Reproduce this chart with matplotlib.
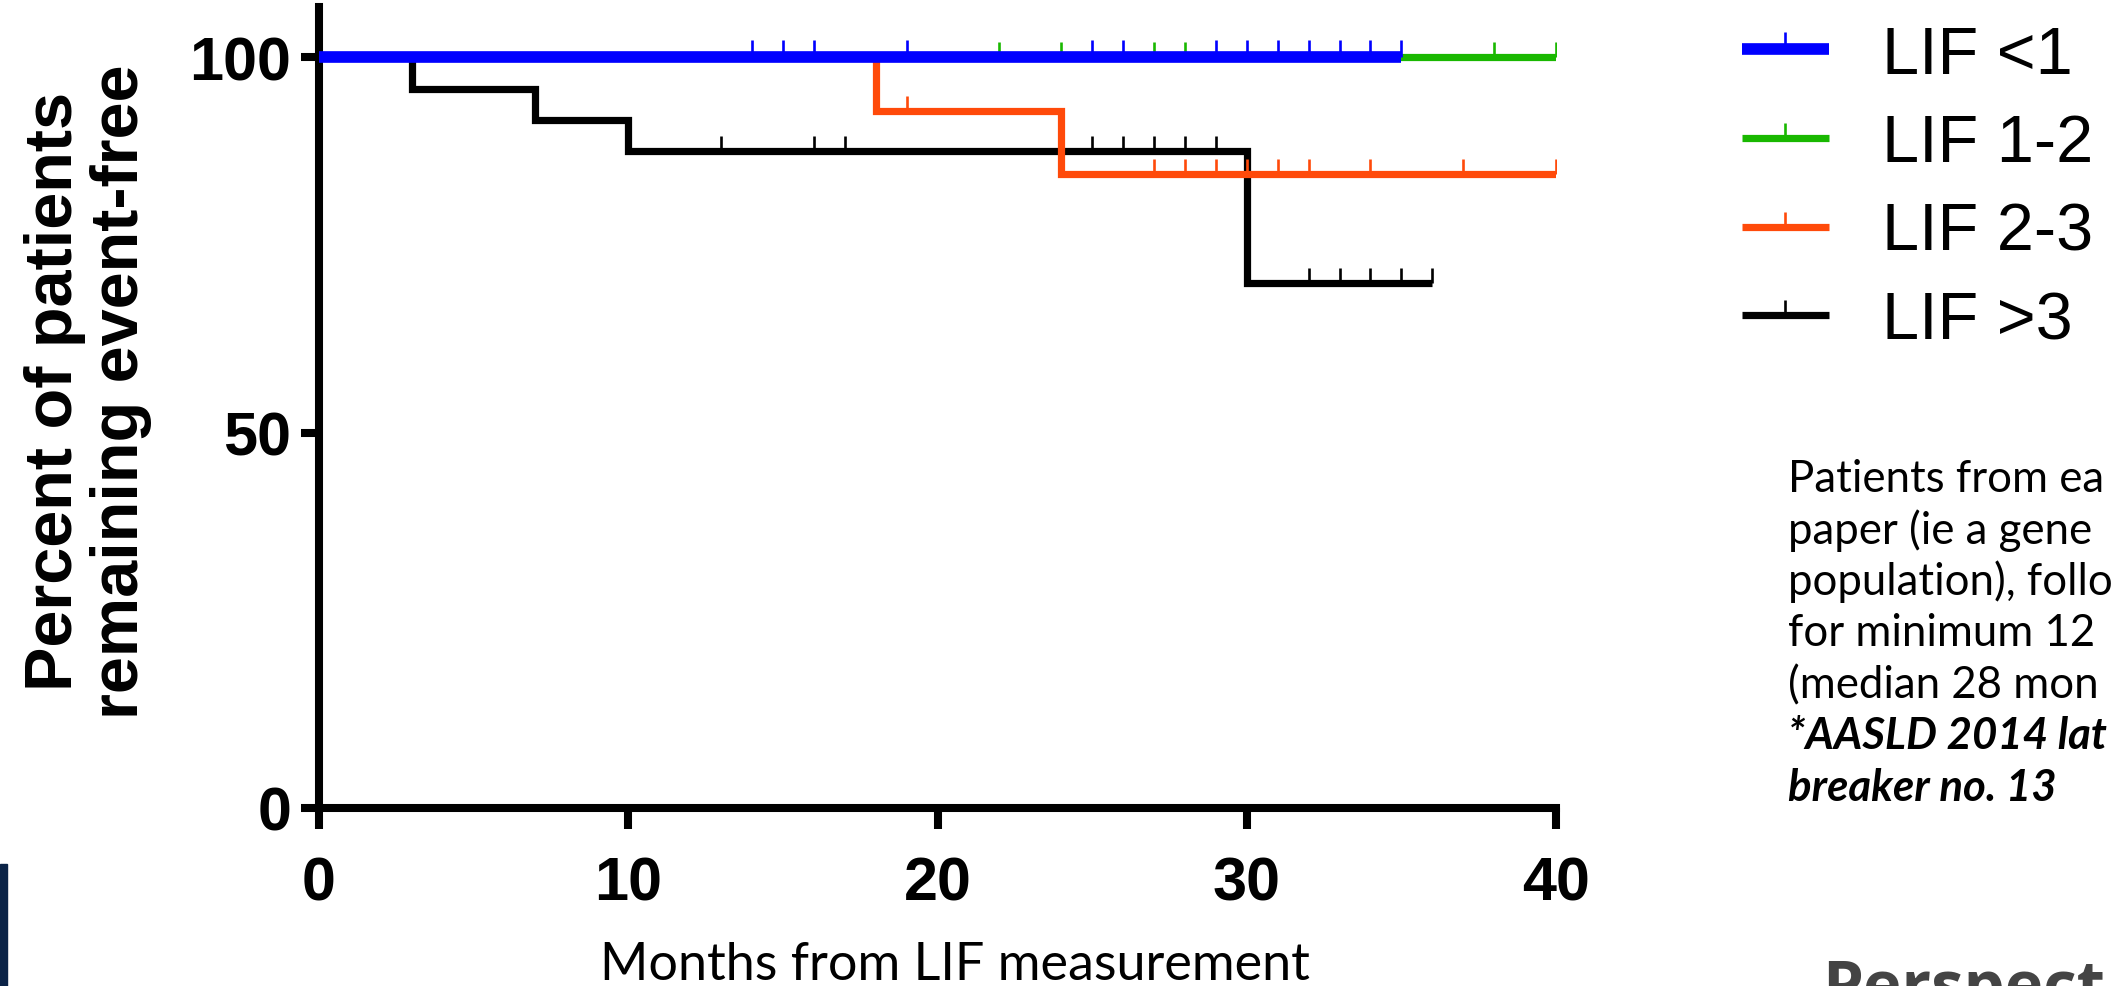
import numpy as np
import matplotlib
matplotlib.use('Agg')
import matplotlib.pyplot as plt
from matplotlib.lines import Line2D

# === DADOS (Kaplan-Meier) ===
grupos = ['LIF <1', 'LIF 1-2', 'LIF 2-3', 'LIF >3']
cores = ['#0000ff', '#19b800', '#ff4a0a', '#000000']

tempos_azul = [0, 35]
sobrev_azul = [100, 100]
censura_azul = [14, 15, 16, 19, 25, 26, 29, 30, 31, 32, 33, 34, 35]

tempos_verde = [0, 40]
sobrev_verde = [100, 100]
censura_verde = [22, 24, 27, 28, 38, 40]

tempos_laranja = [0, 18, 24, 40]
sobrev_laranja = [100, 92.9, 84.4, 84.4]
censura_laranja = [19, 27, 28, 29, 30, 31, 32, 34, 37, 40]

tempos_preto = [0, 3, 7, 10, 30, 36]
sobrev_preto = [100, 95.8, 91.7, 87.5, 70.0, 70.0]
censura_preto = [13, 16, 17, 25, 26, 27, 28, 29, 32, 33, 34, 35, 36]

x_ticks = [0, 10, 20, 30, 40]
y_ticks = [0, 50, 100]

# texto do slide, cortado na borda direita como no original
texto_lateral = ['Patients from ea', 'paper (ie a gene', 'population), follo',
                 'for minimum 12', '(median 28 mon']
texto_negrito = ['*AASLD 2014 lat', 'breaker no. 13']


def valor_em(tempos, sobrev, t):
    i = np.searchsorted(tempos, t, side='right') - 1
    return sobrev[i]


fig = plt.figure(figsize=(21.12, 9.87), dpi=100)
ax = fig.add_axes([319 / 2112, 178 / 987, 1237 / 2112, 801 / 987])

series = [
    (tempos_preto, sobrev_preto, censura_preto, cores[3], 5.2, 11),
    (tempos_laranja, sobrev_laranja, censura_laranja, cores[2], 5.2, 11),
    (tempos_verde, sobrev_verde, censura_verde, cores[1], 5.2, 11),
    (tempos_azul, sobrev_azul, censura_azul, cores[0], 8.4, 12.5),
]
for tempos, sobrev, censura, cor, lw, ms in series:
    ax.step(tempos, sobrev, where='post', color=cor, lw=lw, solid_joinstyle='miter',
            solid_capstyle='butt', zorder=3)
    yc = [valor_em(tempos, sobrev, t) for t in censura]
    ax.plot(censura, yc, linestyle='none', marker=2, markersize=ms, markeredgewidth=1.9,
            color=cor, zorder=3)

ax.set_xlim(0, 40)
ax.set_ylim(0, 106.7)
ax.set_xticks(x_ticks)
ax.set_yticks(y_ticks)
for s in ['top', 'right']:
    ax.spines[s].set_visible(False)
for s in ['left', 'bottom']:
    ax.spines[s].set_linewidth(5.8)
ax.spines['bottom'].set_bounds(0, 40)
ax.tick_params(axis='x', direction='out', length=15, width=5.8, pad=19)
ax.tick_params(axis='y', direction='out', length=13, width=5.8, pad=7)
for lab in ax.get_xticklabels() + ax.get_yticklabels():
    lab.set_fontfamily('Liberation Sans')
    lab.set_fontweight('bold')
    lab.set_fontsize(44)

# rótulo do eixo y
fig.text(0.0415, 0.603, 'Percent of patients\nremaining event-free', rotation=90,
         ha='center', va='center', ma='center', fontsize=48, fontweight='bold',
         family='Liberation Sans', linespacing=1.08)

# rótulo do eixo x
fig.text(955 / 2112, 7 / 987, 'Months from LIF measurement', ha='center', va='baseline',
         fontsize=37.5, family='Lato')

# legenda
handles = []
for cor, lw, ms in zip(cores, [8.4, 5.2, 5.2, 5.2], [12.5, 11, 11, 11]):
    handles.append(Line2D([0], [0], color=cor, lw=lw, marker=2, markersize=ms,
                          markeredgewidth=1.9, solid_capstyle='butt'))
fig.legend(handles, grupos, loc='center left', bbox_to_anchor=(1742 / 2112, 0.808),
           frameon=False, prop={'family': 'Liberation Sans', 'size': 48},
           handlelength=1.3, handletextpad=0.8, labelspacing=0.4, borderpad=0,
           borderaxespad=0, numpoints=1)

# texto lateral
y0 = 492
passo = 51.5
for i, linha in enumerate(texto_lateral):
    fig.text(1788 / 2112, 1 - (y0 + i * passo) / 987, linha, ha='left', va='baseline',
             fontsize=31.5, family='Lato')
for j, linha in enumerate(texto_negrito):
    i = len(texto_lateral) + j
    fig.text(1788 / 2112, 1 - (y0 + i * passo) / 987, linha, ha='left', va='baseline',
             fontsize=31.5, family='Lato', fontweight='bold', style='italic')

# logotipo cortado
fig.text(1822 / 2112, -20 / 987, 'Perspect', ha='left', va='baseline', fontsize=47,
         family='Open Sans', fontweight='bold', color='#444444')

# barra azul escura à esquerda
fig.patches.append(plt.Rectangle((0, 0), 7 / 2112, 122 / 987, transform=fig.transFigure,
                                 color='#0b2347', zorder=5))

fig.savefig('out.png', dpi=100)
